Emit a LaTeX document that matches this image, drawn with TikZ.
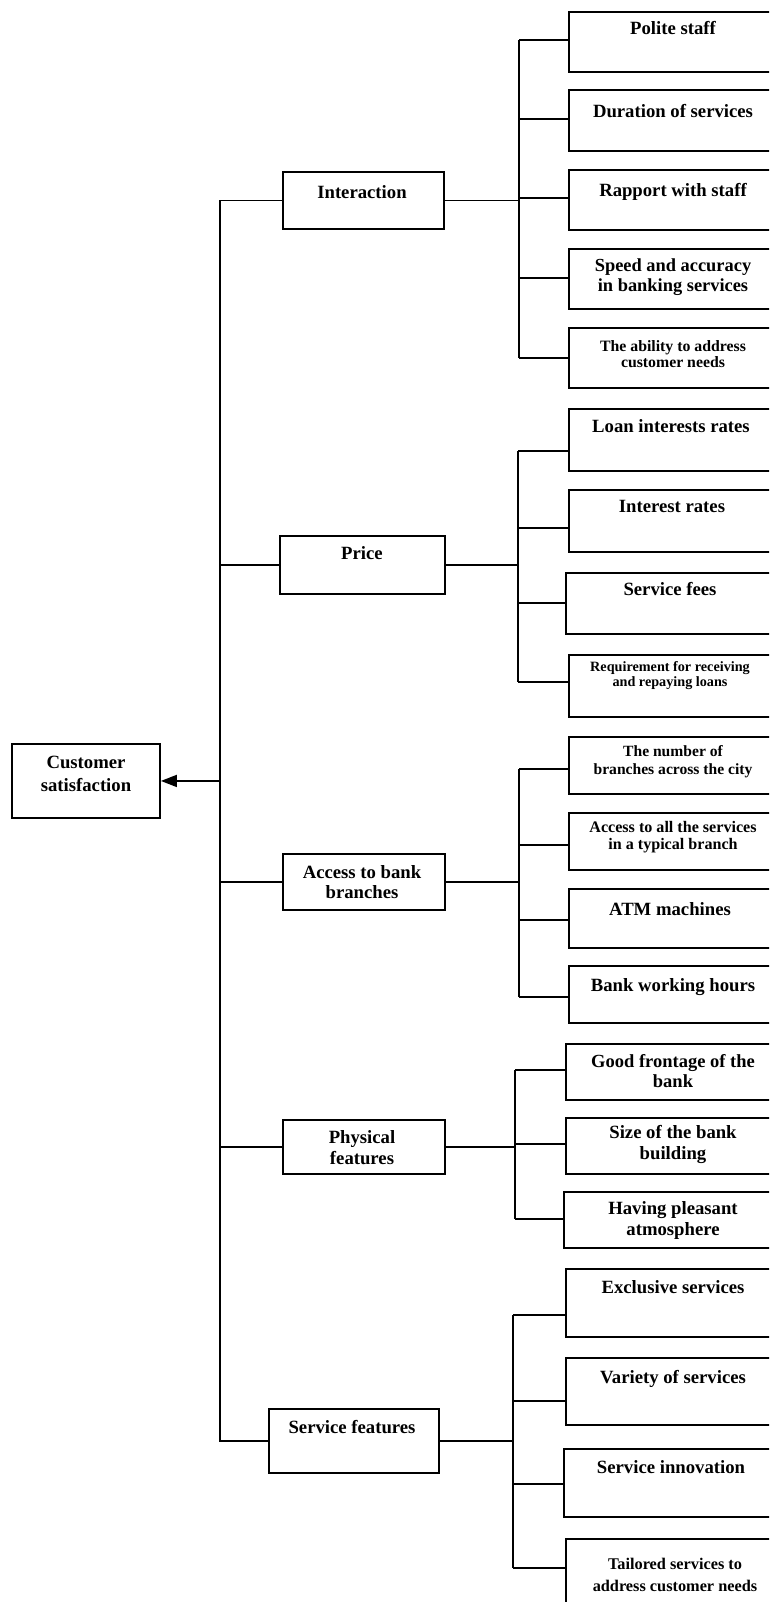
\documentclass[tikz,border=0pt]{standalone}
\usepackage{fontspec}
\setmainfont{Liberation Serif}
\usetikzlibrary{arrows.meta}
\begin{document}
\begin{tikzpicture}[x=1pt,y=-1pt,
  box/.style={draw=black, line width=1.9pt, inner sep=0pt, anchor=north west},
  leaf/.style={box, minimum width=240},
  conn/.style={draw=black, line width=1.7pt},
  lbl/.style={inner sep=0pt, align=center, text=black},
  fs/.style n args={2}{font=\bfseries\fontsize{#1}{#2}\selectfont},
  one/.style={lbl, fs={18.7}{21}, text height=12.3pt, text depth=0pt},
]
\useasboundingbox (0,0) rectangle (769,1602);
\clip (0,0) rectangle (769,1602);
\fill[white] (0,0) rectangle (769,1602);

% root
\node[box, minimum width=148, minimum height=74] (cs) at (11,743) {};
\node[lbl, fs={18.7}{23}] (cst) at (86,773.5) {Customer\\satisfaction};

% main categories
\node[box, minimum width=161, minimum height=57] (int) at (282,171) {};
\node[one] (intt) at (362,192) {Interaction};
\node[box, minimum width=165, minimum height=58] (pri) at (279,535) {};
\node[one] (prit) at (362,553) {Price};
\node[box, minimum width=162, minimum height=56] (acc) at (282,853) {};
\node[lbl, fs={18.7}{20}] (acct) at (362,882) {Access to bank\\branches};
\node[box, minimum width=162, minimum height=54] (phy) at (282,1119) {};
\node[lbl, fs={18.7}{21}] (phyt) at (362,1147.5) {Physical\\features};
\node[box, minimum width=170, minimum height=64] (sf) at (268,1408) {};
\node[one] (sft) at (352,1427) {Service features};

% leaves: interaction
\node[leaf, minimum height=60] (I1) at (568,11) {};
\node[leaf, minimum height=61] (I2) at (568,89) {};
\node[leaf, minimum height=60] (I3) at (568,169) {};
\node[leaf, minimum height=60] (I4) at (568,248) {};
\node[leaf, minimum height=60] (I5) at (568,327) {};
\node[one] (I1t) at (673,28) {Polite staff};
\node[one] (I2t) at (673,111) {Duration of services};
\node[one] (I3t) at (673,190) {Rapport with staff};
\node[lbl, fs={18.4}{20}] (I4t) at (673,277) {Speed and accuracy\\in banking services};
\node[lbl, fs={15.8}{16}] (I5t) at (673,354) {The ability to address\\customer needs};

% leaves: price
\node[leaf, minimum height=62] (P1) at (568,408) {};
\node[leaf, minimum height=62] (P2) at (568,489) {};
\node[leaf, minimum height=61] (P3) at (565,572) {};
\node[leaf, minimum height=62] (P4) at (568,654) {};
\node[one] (P1t) at (671,426) {Loan interests rates};
\node[one] (P2t) at (672,506) {Interest rates};
\node[one] (P3t) at (670,589) {Service fees};
\node[lbl, fs={14.2}{15}] (P4t) at (670,675.5) {Requirement for receiving\\and repaying loans};

% leaves: access
\node[leaf, minimum height=57] (A1) at (568,736) {};
\node[leaf, minimum height=57] (A2) at (568,812) {};
\node[leaf, minimum height=59] (A3) at (568,888) {};
\node[leaf, minimum height=57] (A4) at (568,965) {};
\node[lbl, fs={15.6}{18}] (A1t) at (673,762) {The number of\\branches across the city};
\node[lbl, fs={16.1}{17}] (A2t) at (673,837.5) {Access to all the services\\in a typical branch};
\node[one] (A3t) at (670,909) {ATM machines};
\node[one] (A4t) at (673,985) {Bank working hours};

% leaves: physical
\node[leaf, minimum height=56] (F1) at (565,1043) {};
\node[leaf, minimum height=56] (F2) at (565,1117) {};
\node[leaf, minimum height=56] (F3) at (563,1191) {};
\node[lbl, fs={18.5}{20}] (F1t) at (673,1071) {Good frontage of the\\bank};
\node[lbl, fs={18.7}{21}] (F2t) at (673,1144.5) {Size of the bank\\building};
\node[lbl, fs={18.7}{21}] (F3t) at (673,1220.5) {Having pleasant\\atmosphere};

% leaves: service features
\node[leaf, minimum height=68] (S1) at (565,1268) {};
\node[leaf, minimum height=67] (S2) at (565,1357) {};
\node[leaf, minimum height=68] (S3) at (563,1448) {};
\node[leaf, minimum height=90] (S4) at (565,1538) {};
\node[one] (S1t) at (673,1287) {Exclusive services};
\node[one] (S2t) at (673,1377) {Variety of services};
\node[one] (S3t) at (671,1467) {Service innovation};
\node[lbl, fs={16.3}{22}] (S4t) at (675,1575) {Tailored services to\\address customer needs};

% trunk
\coordinate (tr) at (220,0);
\draw[conn] (int.west) -- (int.west -| tr) -- (sf.west -| tr) -- (sf.west);
\draw[conn] (pri.west) -- (pri.west -| tr);
\draw[conn] (acc.west) -- (acc.west -| tr);
\draw[conn] (phy.west) -- (phy.west -| tr);
\draw[conn, -{Triangle[length=16pt,width=12pt]}] (cs.east -| tr) -- (cs.east);

% buses
\coordinate (bI) at (519,0);
\coordinate (bP) at (518,0);
\coordinate (bA) at (519,0);
\coordinate (bF) at (515,0);
\coordinate (bS) at (513,0);

\draw[conn] (int.east) -- (int.east -| bI);
\draw[conn] (bI |- 0,40) -- (bI |- 0,358);
\foreach \n/\y in {I1/40, I2/119, I3/198, I4/278, I5/358}
  \draw[conn] (bI |- 0,\y) -- (\n.west |- 0,\y);

\draw[conn] (pri.east) -- (pri.east -| bP);
\draw[conn] (bP |- 0,451) -- (bP |- 0,682);
\foreach \n/\y in {P1/451, P2/528, P3/603, P4/682}
  \draw[conn] (bP |- 0,\y) -- (\n.west |- 0,\y);

\draw[conn] (acc.east) -- (acc.east -| bA);
\draw[conn] (bA |- 0,769) -- (bA |- 0,997);
\foreach \n/\y in {A1/769, A2/845, A3/920, A4/997}
  \draw[conn] (bA |- 0,\y) -- (\n.west |- 0,\y);

\draw[conn] (phy.east) -- (phy.east -| bF);
\draw[conn] (bF |- 0,1070) -- (bF |- 0,1219);
\foreach \n/\y in {F1/1070, F2/1144, F3/1219}
  \draw[conn] (bF |- 0,\y) -- (\n.west |- 0,\y);

\draw[conn] (sf.east) -- (sf.east -| bS);
\draw[conn] (bS |- 0,1315) -- (bS |- 0,1568);
\foreach \n/\y in {S1/1315, S2/1401, S3/1484, S4/1568}
  \draw[conn] (bS |- 0,\y) -- (\n.west |- 0,\y);
\end{tikzpicture}
\end{document}
